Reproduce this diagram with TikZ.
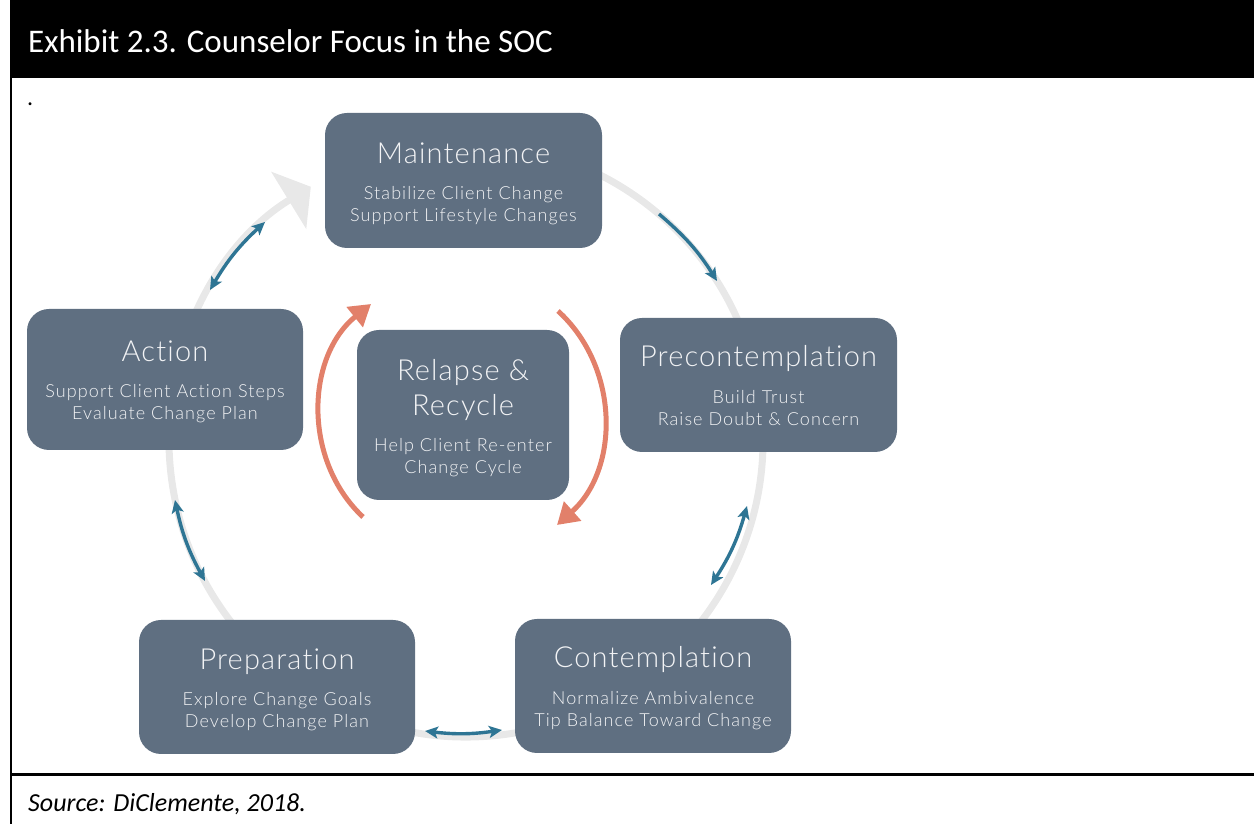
\documentclass[tikz,border=0pt]{standalone}
\usepackage{fontspec}
\setmainfont{Carlito}
\IfFontExistsTF{Lato Light}{%
  \newfontfamily\boxtitlefont{Lato Light}[LetterSpace=4,Ligatures=NoCommon]
  \newfontfamily\boxsubfont{Lato Light}[LetterSpace=6,Ligatures=NoCommon]
}{%
  \newfontfamily\boxtitlefont{Lato}[LetterSpace=4,Ligatures=NoCommon]
  \newfontfamily\boxsubfont{Lato}[LetterSpace=6,Ligatures=NoCommon]
}
\usetikzlibrary{arrows.meta,calc}
\definecolor{boxfill}{HTML}{5F6F81}
\definecolor{cyclebl}{HTML}{2E7594}
\definecolor{relorange}{HTML}{E2806A}
\definecolor{ringgray}{HTML}{E8E8E8}
\definecolor{boxtext}{HTML}{F2F3F5}
\tikzset{
  bluehead/.tip={Stealth[length=13pt,width=12pt,inset=3pt]},
  orangehead/.tip={Triangle[length=21pt,width=25pt]},
  ringhead/.tip={Triangle[length=26pt,width=66pt]},
  stage/.style={fill=boxfill, draw=none, rounded corners=22pt, inner sep=0pt},
  ttl/.style={text=boxtext, font=\boxtitlefont\fontsize{29}{34}\selectfont, anchor=base, inner sep=0pt},
  sub/.style={text=boxtext, font=\boxsubfont\fontsize{18}{22}\selectfont, anchor=base, inner sep=0pt},
  bluearc/.style={draw=cyclebl, line width=3.4pt},
  orangearc/.style={draw=relorange, line width=5pt, -orangehead},
  ring/.style={draw=ringgray, line width=7pt, -ringhead},
}
\begin{document}
\begin{tikzpicture}[x=1pt,y=1pt]
\useasboundingbox (0,0) rectangle (1254,824);
% header and frame
\fill[black] (10,746) rectangle (1254,824);
\node[anchor=base west, text=white, font=\fontsize{33}{38}\selectfont, inner sep=0pt] (hdr) at (28,771) {Exhibit 2.3. Counselor Focus in the SOC};
\draw[line width=1.5pt] (11,746) -- (11,0);
\draw[line width=3pt] (11,49) -- (1254,49);
\node[anchor=base west, font=\itshape\fontsize{26}{30}\selectfont, inner sep=0pt] (src) at (28,12) {Source: DiClemente, 2018.};
\node[anchor=base west, font=\fontsize{24}{28}\selectfont, inner sep=0pt] (dot) at (27,718) {.};
% big ring
\coordinate (cc) at (466,384);
\draw[ring] ($(cc)+(100:297)$) arc[start angle=100, end angle=-238.5, radius=297];
% blue arrows
\coordinate (mpA) at (659,610); \coordinate (mpB) at (717,543);
\coordinate (amA) at (210,534); \coordinate (amB) at (265,602);
\coordinate (apA) at (175,324); \coordinate (apB) at (205,243);
\coordinate (pcA) at (425,93);  \coordinate (pcB) at (502,94);
\coordinate (cpA) at (711,239); \coordinate (cpB) at (747,318);
\draw[bluearc, -bluehead] (mpA) to[bend left=8.6] (mpB);
\draw[bluearc, bluehead-bluehead] (amA) to[bend left=8.5] (amB);
\draw[bluearc, bluehead-bluehead] (apA) to[bend right=8.4] (apB);
\draw[bluearc, bluehead-bluehead] (pcA) to[bend right=7.5] (pcB);
\draw[bluearc, bluehead-bluehead] (cpA) to[bend right=8.7] (cpB);
% orange arrows
\coordinate (olA) at (363,307); \coordinate (olB) at (371,520);
\coordinate (orA) at (558,513); \coordinate (orB) at (557,299);
\draw[orangearc] (olA) to[bend left=49] (olB);
\draw[orangearc] (orA) to[bend left=48] (orB);
% stage boxes
\node[stage, minimum width=277pt, minimum height=135pt] (mt) at (463.5,643.5) {};
\node[stage, minimum width=277pt, minimum height=134pt] (pc) at (758.5,439) {};
\node[stage, minimum width=276pt, minimum height=141pt] (ac) at (165,444.5) {};
\node[stage, minimum width=212pt, minimum height=170pt] (rr) at (463,409) {};
\node[stage, minimum width=276pt, minimum height=134pt] (pr) at (277,137) {};
\node[stage, minimum width=276pt, minimum height=134pt] (ct) at (653,138) {};
% texts
\node[ttl] (mtT) at (463.5,660) {Maintenance};
\node[sub] (mt1) at (463.5,624) {Stabilize Client Change};
\node[sub] (mt2) at (463.5,602) {Support Lifestyle Changes};
\node[ttl] (pcT) at (758.5,457) {Precontemplation};
\node[sub] (pc1) at (758.5,420) {Build Trust};
\node[sub] (pc2) at (758.5,398) {Raise Doubt \& Concern};
\node[ttl] (acT) at (165,462) {Action};
\node[sub] (ac1) at (165,426) {Support Client Action Steps};
\node[sub] (ac2) at (165,404) {Evaluate Change Plan};
\node[ttl] (rrT1) at (463,443) {Relapse \&};
\node[ttl] (rrT2) at (463,408) {Recycle};
\node[sub] (rr1) at (463,372) {Help Client Re-enter};
\node[sub] (rr2) at (463,350) {Change Cycle};
\node[ttl] (prT) at (277,154) {Preparation};
\node[sub] (pr1) at (277,118) {Explore Change Goals};
\node[sub] (pr2) at (277,96) {Develop Change Plan};
\node[ttl] (ctT) at (653,156) {Contemplation};
\node[sub] (ct1) at (653,119) {Normalize Ambivalence};
\node[sub] (ct2) at (653,97) {Tip Balance Toward Change};
\end{tikzpicture}
\end{document}
